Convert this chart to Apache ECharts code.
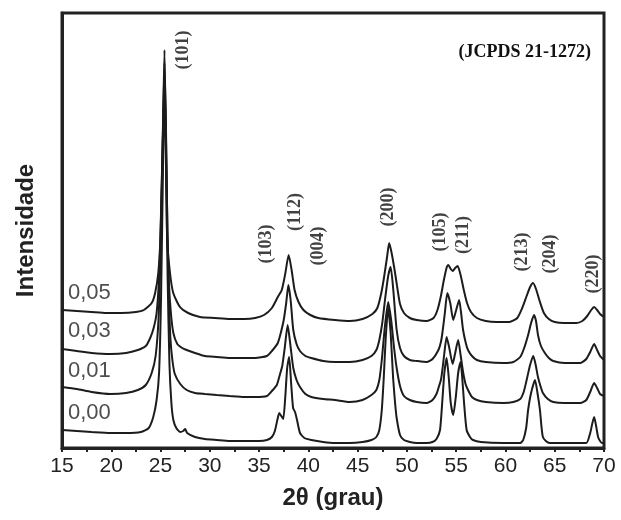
<!DOCTYPE html>
<html>
<head>
<meta charset="utf-8">
<script src="https://cdn.jsdelivr.net/npm/echarts@6/dist/echarts.min.js"></script>
<style>html,body{margin:0;padding:0;background:#fff}#c{width:621px;height:520px}</style>
</head>
<body>
<div id="c"></div>
<script>
// Tick labels of the 2θ axis
var xTicks = [15, 20, 25, 30, 35, 40, 45, 50, 55, 60, 65, 70];

// Series names (Cu/Ti ratio, stacked from top to bottom)
var seriesNames = ['0,05', '0,03', '0,01', '0,00'];

// Intensity (a.u., offset-stacked as drawn) vs 2θ
var s005 = [[15,138],[16.5,137],[18,136],[19.5,135],[21,135],[22.5,136],[23.3,138],[24.1,145],[24.45,155],[24.77,175],[24.98,208],[25.12,260],[25.25,320],[25.4,398],[25.52,320],[25.6,260],[25.68,208],[25.96,175],[26.29,155],[26.97,141],[27.8,135],[29,131],[30.5,130],[32,129],[33.5,129],[34.6,130],[35.5,133],[36.3,140],[36.9,151],[37.3,158],[37.65,174],[38.0,193],[38.3,178],[38.6,158],[39.0,146],[39.5,138],[40.2,133],[41,130],[42.7,128],[44.2,127],[45.5,129],[46.5,134],[47.0,140],[47.4,155],[47.7,172],[48.0,192],[48.2,205],[48.45,195],[48.75,178],[49.0,162],[49.3,144],[49.7,135],[50.3,130],[51,128],[52,127],[52.7,130],[53.1,138],[53.45,152],[53.75,168],[54.05,181],[54.2,183],[54.45,179],[54.65,177],[54.9,180],[55.15,182],[55.45,173],[55.75,159],[56.1,145],[56.5,136],[57.1,130],[58,127],[59.1,126],[60.4,126],[61.2,130],[61.7,140],[62.15,152],[62.5,161],[62.8,165],[63.1,159],[63.5,146],[63.9,135],[64.4,129],[65,126],[66,125],[67.2,125],[67.8,127],[68.3,132],[68.7,138],[69.0,141],[69.3,138],[69.6,134],[70,131]];

var s003 = [[15,99],[16.5,97],[18,95],[19.9,94],[21.5,95],[22.7,98],[23.5,102],[23.95,110],[24.3,120],[24.6,135],[24.85,170],[25.0,215],[25.2,300],[25.4,385],[25.55,320],[25.7,215],[25.85,165],[26.05,135],[26.3,115],[26.7,104],[27.2,100],[27.65,98],[28.5,95],[29.5,92],[30.7,91],[32,90],[33.5,90],[34.6,90],[35.8,92],[36.3,97],[36.9,105],[37.2,115],[37.5,128],[37.75,145],[37.97,163],[38.2,148],[38.47,118],[38.8,104],[39.15,97],[39.7,92],[40.3,90],[41.5,87],[42.7,86],[44.2,86],[45.5,88],[46.4,92],[46.9,98],[47.2,108],[47.5,125],[47.8,150],[48.1,172],[48.35,181],[48.6,160],[48.96,118],[49.3,100],[49.7,92],[50.3,88],[51,87],[52,86],[52.6,89],[53.2,98],[53.45,106],[53.6,115],[53.85,135],[54.1,155],[54.4,145],[54.7,128],[55.0,138],[55.3,148],[55.5,135],[55.7,118],[56.0,104],[56.2,98],[56.6,92],[57.1,88],[58,86],[59.8,85],[60.8,86],[61.5,91],[61.9,100],[62.3,113],[62.6,125],[62.9,133],[63.1,127],[63.3,113],[63.6,102],[64.0,95],[64.4,90],[64.85,87],[66,85],[67.6,85],[68.2,89],[68.6,96],[69.0,104],[69.3,98],[69.6,92],[70,88]];

var s001 = [[15,61],[16.5,59],[18,56],[19.9,54],[21.5,55],[22.7,58],[23.5,63],[24.1,75],[24.5,92],[24.8,130],[25.0,195],[25.2,290],[25.4,370],[25.55,310],[25.7,215],[25.85,150],[26.0,110],[26.2,88],[26.45,74],[27.0,64],[27.65,58],[28.5,55],[29.5,54],[30.7,53],[32,52],[33.5,51],[34.6,51],[35.8,52],[36.3,57],[36.8,63],[37.1,73],[37.35,82],[37.6,100],[37.9,123],[38.15,105],[38.47,80],[38.8,68],[39.15,61],[39.7,54],[40.3,51],[41.5,49],[42.7,48],[44.2,46],[45.5,48],[46.4,53],[46.9,58],[47.2,68],[47.45,88],[47.75,120],[48.1,146],[48.4,128],[48.7,100],[48.96,80],[49.3,62],[49.7,52],[50.3,48],[51,46],[52,45],[52.6,48],[53.0,54],[53.2,60],[53.45,68],[53.6,78],[53.8,95],[54.03,111],[54.3,100],[54.64,84],[54.9,95],[55.2,108],[55.45,93],[55.7,76],[55.95,64],[56.2,58],[56.6,51],[57.1,48],[58,46],[59.8,45],[60.8,46],[61.5,49],[61.85,56],[62.15,68],[62.5,83],[62.82,92],[63.05,84],[63.3,71],[63.55,62],[63.8,55],[64.3,49],[64.85,46],[66,45],[67.6,45],[68.2,48],[68.6,56],[69.0,65],[69.3,60],[69.6,54],[70,52]];

var s000 = [[15,18],[16.5,17],[18,16],[19.9,15],[21.5,15],[23.0,16],[23.8,20],[24.26,31],[24.6,48],[24.85,75],[25.05,150],[25.25,280],[25.4,360],[25.55,285],[25.72,170],[25.9,85],[26.1,45],[26.3,28],[26.6,20],[27.0,16],[27.3,17],[27.5,19],[27.7,15],[28.5,11],[29.5,9],[30.7,8],[32,7],[33.5,7],[35.0,7],[35.8,8],[36.3,11],[36.6,17],[36.85,28],[37.05,35],[37.25,32],[37.45,29],[37.65,50],[37.85,80],[38.05,91],[38.25,65],[38.45,40],[38.65,36],[38.85,28],[39.15,15],[39.6,10],[40.3,8],[41.5,6],[42.7,5],[44.2,5],[45.5,6],[46.4,8],[46.9,11],[47.2,18],[47.45,38],[47.65,70],[47.85,110],[48.1,140],[48.35,115],[48.6,70],[48.8,45],[48.96,30],[49.3,13],[49.7,8],[50.3,6],[51,5],[52,5],[52.6,6],[53.0,9],[53.36,18],[53.6,48],[53.8,75],[54.03,90],[54.25,70],[54.45,45],[54.7,33],[54.95,50],[55.2,75],[55.45,86],[55.6,72],[55.8,45],[56.06,18],[56.4,11],[56.7,8],[57.5,6],[59.8,5],[61,5],[61.5,5],[61.8,8],[62.1,20],[62.3,38],[62.6,55],[63.0,68],[63.25,55],[63.5,38],[63.65,22],[63.8,11],[64.1,7],[64.5,5],[66,5],[68.2,5],[68.6,15],[68.8,24],[69.0,31],[69.2,22],[69.4,11],[69.6,7],[69.8,5],[70,5]];

// Miller-index annotations: label, 2θ position, height (a.u.)
var hklLabels = ['(101)', '(103)', '(112)', '(004)', '(200)', '(105)', '(211)', '(213)', '(204)', '(220)'];
var hklPos    = [27.28, 35.77, 38.64, 40.98, 48.08, 53.36, 55.69, 61.68, 64.52, 68.88];
var hklHeight = [398, 204, 236, 202, 241, 216, 213, 196, 194, 174];

// Series label heights (a.u.) at the left side
var nameHeight = [155, 117, 77, 35];

var chart = echarts.init(document.getElementById('c'), null, {renderer: 'canvas'});

var lineColor = '#1c1c1c';
var curves = [s005, s003, s001, s000];
var series = curves.map(function (d, i) {
  return {
    name: seriesNames[i], type: 'line', data: d, showSymbol: false,
    smooth: 0.2, lineStyle: {color: lineColor, width: 2}, z: 2, animation: false
  };
});

series.push({
  type: 'scatter', symbolSize: 0, animation: false, silent: true,
  data: hklPos.map(function (x, i) { return {value: [x, hklHeight[i]], name: hklLabels[i]}; }),
  label: {
    show: true, position: 'inside', rotate: 90, formatter: '{b}',
    fontFamily: 'Liberation Serif', fontWeight: 'bold', fontSize: 18, color: '#111'
  }
});

series.push({
  type: 'scatter', symbolSize: 0, animation: false, silent: true,
  data: seriesNames.map(function (n, i) { return {value: [15.6, nameHeight[i]], name: n}; }),
  label: {
    show: true, position: 'right', distance: 0, formatter: '{b}',
    fontFamily: 'Liberation Sans', fontSize: 22, color: '#222'
  }
});

chart.setOption({
  animation: false,
  backgroundColor: '#fff',
  grid: {left: 62, right: 17, top: 13, bottom: 72, show: true, borderColor: '#222', borderWidth: 3},
  graphic: [{
    type: 'text', right: 30, top: 43,
    style: {text: '(JCPDS 21-1272)', font: 'bold 18px "Liberation Serif"', fill: '#111'}
  }],
  xAxis: {
    type: 'value', min: 15, max: 70, interval: 5,
    name: '2\u03b8 (grau)', nameLocation: 'middle', nameGap: 38,
    nameTextStyle: {fontFamily: 'Liberation Sans', fontWeight: 'bold', fontSize: 24, color: '#222'},
    axisLine: {show: true, lineStyle: {color: '#222', width: 3}},
    axisTick: {show: true, inside: false, length: 4, lineStyle: {color: '#222', width: 2}},
    minorTick: {show: true, splitNumber: 2, length: 4, lineStyle: {color: '#222', width: 2}},
    splitLine: {show: false},
    axisLabel: {
      margin: 8, fontFamily: 'Liberation Sans', fontSize: 21, color: '#222',
      formatter: function (v) { return xTicks.indexOf(v) >= 0 ? String(v) : ''; }
    }
  },
  yAxis: {
    type: 'value', min: 0, max: 435,
    name: 'Intensidade', nameLocation: 'middle', nameGap: 24, nameRotate: 90,
    nameTextStyle: {fontFamily: 'Liberation Sans', fontWeight: 'bold', fontSize: 24, color: '#222'},
    axisLine: {show: true, lineStyle: {color: '#222', width: 3}},
    axisTick: {show: false}, axisLabel: {show: false}, splitLine: {show: false}
  },
  series: series
});
</script>
</body>
</html>
